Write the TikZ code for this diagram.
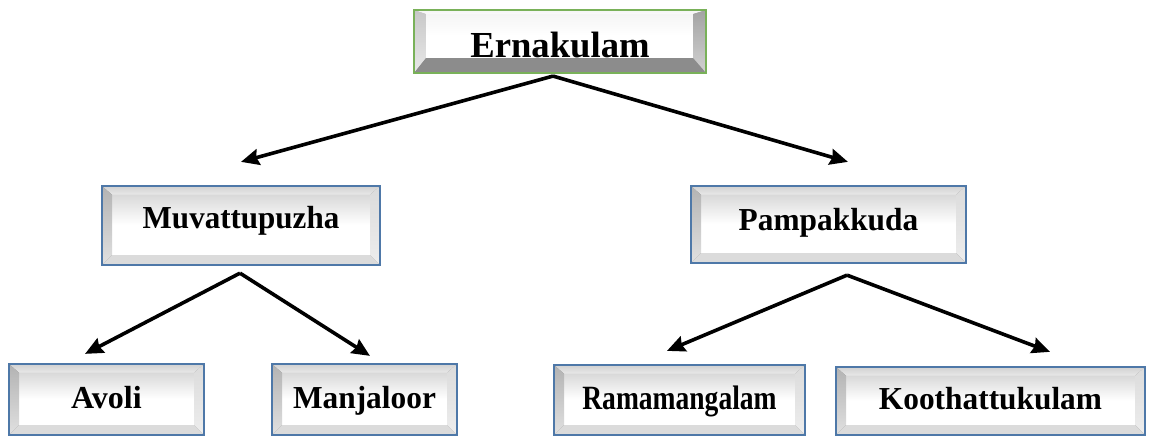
\documentclass[tikz,border=0pt]{standalone}
\usepackage{fontspec}
\setmainfont{Liberation Serif}
\usetikzlibrary{arrows.meta,shadows}

\definecolor{frameblue}{HTML}{4E78A8}
\definecolor{framegreen}{HTML}{79B159}

% Bevelled panel: #1 left, #2 top, #3 right, #4 bottom band widths;
% #5 top band, #6 left band, #7 right band, #8 bottom band, #9 face top colour
\newcommand{\drawbevel}[9]{%
  \path (path picture bounding box.north west) coordinate (bvA)
        (path picture bounding box.north east) coordinate (bvB)
        (path picture bounding box.south east) coordinate (bvC)
        (path picture bounding box.south west) coordinate (bvD);
  \path ([xshift=#1,yshift=-#2]bvA) coordinate (bva)
        ([xshift=-#3,yshift=-#2]bvB) coordinate (bvb)
        ([xshift=-#3,yshift=#4]bvC) coordinate (bvc)
        ([xshift=#1,yshift=#4]bvD) coordinate (bvd);
  \shade[top color=#9, bottom color=white, middle color=white] (bva) rectangle (bvc);
  \shade[top color=#5, bottom color=#5!50!white] (bvA) -- (bvB) -- (bvb) -- (bva) -- cycle;
  \shade[top color=#6, bottom color=#6!40!white] (bvA) -- (bva) -- (bvd) -- (bvD) -- cycle;
  \shade[top color=#7, bottom color=#7!50!white] (bvB) -- (bvC) -- (bvc) -- (bvb) -- cycle;
  \fill[#8] (bvD) -- (bvd) -- (bvc) -- (bvC) -- cycle;
}

\colorlet{bvtopblue}{black!18}
\colorlet{bvleftblue}{black!30}
\colorlet{bvrightblue}{black!14}
\colorlet{bvbottomblue}{black!14}
\colorlet{bvfaceblue}{black!15}
\colorlet{bvtopgreen}{black!4}
\colorlet{bvleftgreen}{black!22}
\colorlet{bvrightgreen}{black!36}
\colorlet{bvbottomgreen}{black!45}
\colorlet{bvfacegreen}{black!4}

\tikzset{
  x=0.75pt, y=-0.75pt,
  place/.style={font=\bfseries\fontsize{24}{28}\selectfont, inner sep=0pt,
    text depth=0pt, align=center},
  bluebox/.style={place, draw=frameblue, line width=1.7pt,
    drop shadow={shadow xshift=0.9pt, shadow yshift=-0.9pt, fill=black!75, opacity=0.8},
    path picture={\drawbevel{7.5pt}{6.5pt}{7.5pt}{7.5pt}{bvtopblue}{bvleftblue}{bvrightblue}{bvbottomblue}{bvfaceblue}}},
  greenbox/.style={place, draw=framegreen, line width=1.6pt,
    font=\bfseries\fontsize{27.5}{32}\selectfont,
    drop shadow={shadow xshift=0.6pt, shadow yshift=-0.9pt, fill=black!40, opacity=0.6},
    path picture={\drawbevel{9pt}{3pt}{9.75pt}{11.25pt}{bvtopgreen}{bvleftgreen}{bvrightgreen}{bvbottomgreen}{bvfacegreen}}},
  link/.style={line width=2.7pt, -{Stealth[length=13.5pt,width=12pt,inset=1.5pt]}}
}

\begin{document}
\begin{tikzpicture}
\useasboundingbox (0,0) rectangle (1149,437);

% boxes
\node[greenbox, minimum width=219pt, minimum height=47.25pt, text height=23.25pt] (ern) at (560,41.5) {Ernakulam};

\node[bluebox, minimum width=208.5pt, minimum height=59.25pt, text height=4.2pt] (muv) at (241,225.5) {\scalebox{0.97}[1]{Muvattupuzha}};
\node[bluebox, minimum width=206.25pt, minimum height=57.75pt, text height=8.25pt] (pam) at (828.5,224.5) {\scalebox{0.98}[1]{Pampakkuda}};

\node[bluebox, minimum width=146.25pt, minimum height=53.25pt, text height=12.75pt] (avo) at (106.5,399.5) {Avoli};
\node[bluebox, minimum width=138.75pt, minimum height=53.25pt, text height=12.75pt] (man) at (364.5,399.5) {\scalebox{0.98}[1]{Manjaloor}};
\node[bluebox, minimum width=188.25pt, minimum height=52.5pt, text height=13.5pt,
      font=\bfseries\fontsize{25.5}{30}\selectfont] (ram) at (679.5,400) {\scalebox{0.81}[1]{Ramamangalam}};
\node[bluebox, minimum width=231.75pt, minimum height=51pt, text height=12pt] (koo) at (990.5,401) {\scalebox{0.98}[1]{Koothattukulam}};

% connector end points
\coordinate (ern-out) at ([xshift=-5.25pt,yshift=-1.5pt]ern.south);
\coordinate (muv-in)  at ([yshift=17.25pt]muv.north);
\coordinate (pam-in)  at ([xshift=14.6pt,yshift=17.25pt]pam.north);
\coordinate (muv-out) at ([xshift=-0.75pt,yshift=-5.25pt]muv.south);
\coordinate (pam-out) at ([xshift=13.9pt,yshift=-8.25pt]pam.south);
\coordinate (avo-in)  at ([xshift=-16.1pt,yshift=6.75pt]avo.north);
\coordinate (man-in)  at ([xshift=4.1pt,yshift=5.25pt]man.north);
\coordinate (ram-in)  at ([xshift=-9.4pt,yshift=9.75pt]ram.north);
\coordinate (koo-in)  at ([xshift=44.6pt,yshift=10.5pt]koo.north);

% connectors
\draw[link] (ern-out) -- (muv-in);
\draw[link] (ern-out) -- (pam-in);
\draw[link] (muv-out) -- (avo-in);
\draw[link] (muv-out) -- (man-in);
\draw[link] (pam-out) -- (ram-in);
\draw[link] (pam-out) -- (koo-in);
\end{tikzpicture}
\end{document}
